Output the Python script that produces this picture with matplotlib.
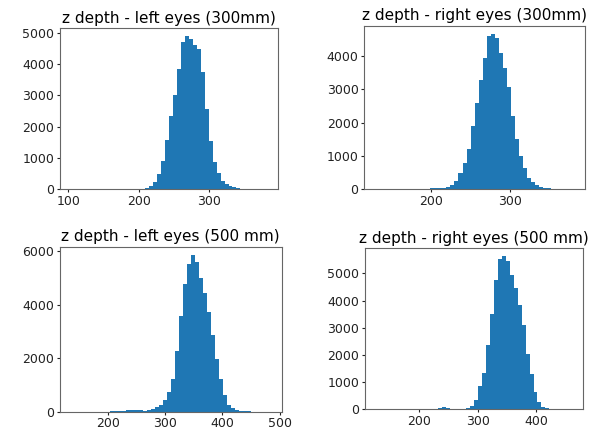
import numpy as np
import matplotlib
matplotlib.use("Agg")
import matplotlib.pyplot as plt

# histogram counts, 50 bins per panel
left300_range = (102.2, 383.2)
left300_counts = [1, 0, 0, 0, 0, 0, 0, 0, 0, 2, 3, 5,
                  10, 15, 20, 15, 10, 15, 25, 50, 110,
                  220, 500, 890, 1560, 2330, 3010, 3860, 4720, 4900,
                  4800, 4600, 4470, 3740, 2560, 1550, 870, 530, 270,
                  160, 100, 60, 30, 15, 8, 5, 3, 2, 1, 1]

right300_range = (128.5, 382.5)
right300_counts = [1, 0, 0, 0, 0, 0, 0, 0, 0,
                   3, 6, 10, 15, 20, 25, 30, 35, 50, 70,
                   130, 250, 480, 780, 1210, 1900, 2580, 3280, 3930, 4600, 4670,
                   4540, 4100, 3640, 3070, 2200, 1520, 1010, 640, 340, 210, 130,
                   80, 50, 30, 15, 8, 4, 2, 1, 1]

left500_range = (133.6, 485.9)
left500_counts = [1, 0, 0, 0, 1, 2, 2, 3, 3, 5, 8, 10, 15,
                  25, 45, 60, 70, 55, 35, 45, 110, 180, 260,
                  450, 750, 1210, 2260, 3590, 4780, 5530, 5880,
                  5600, 5000, 4440, 3740, 2880, 1970, 1220, 610, 250, 120,
                  60, 30, 15, 8, 4, 2, 1, 1, 1]

right500_range = (124.0, 462.8)
right500_counts = [1, 0, 0, 0, 0, 0, 0, 0, 1, 1, 2, 2, 3, 3, 5,
                   10, 40, 80, 40, 20, 15, 20, 30, 50, 120,
                   360, 840, 1320, 2380, 3490, 4770, 5540, 5640,
                   5460, 4930, 4450, 3850, 3090, 2030, 1290, 650, 280, 100,
                   40, 15, 6, 3, 1, 1, 1]

titles = ["z depth - left eyes (300mm)", "z depth - right eyes (300mm)",
          "z depth - left eyes (500 mm)", "z depth - right eyes (500 mm)"]
xticks = [[100, 200, 300], [200, 300], [200, 300, 400, 500], [200, 300, 400]]
yticks = [[0, 1000, 2000, 3000, 4000, 5000], [0, 1000, 2000, 3000, 4000],
          [0, 2000, 4000, 6000], [0, 1000, 2000, 3000, 4000, 5000]]


def draw_hist(ax, rng, counts, title, xt, yt):
    """Draws one pre-binned histogram"""
    edges = np.linspace(rng[0], rng[1], len(counts) + 1)
    centers = (edges[:-1] + edges[1:]) / 2
    ax.hist(centers, bins=edges, weights=counts, color="#1f77b4")
    ax.set_title(title, fontsize=11, pad=4)
    ax.set_xticks(xt)
    ax.set_yticks(yt)
    ax.tick_params(labelsize=9, length=2, pad=2, colors="#222222")
    for s in ax.spines.values():
        s.set_color("#666666")
        s.set_linewidth(0.8)


fig = plt.figure(figsize=(5.91, 4.30), dpi=100)
# axes boxes measured in pixels of the reference (left, bottom, width, height)
boxes = [(0.1015, 0.5598, 0.369, 0.3744),
         (0.616, 0.5598, 0.374, 0.3798),
         (0.1015, 0.0426, 0.375, 0.3837),
         (0.6176, 0.0481, 0.369, 0.3744)]
data = [(left300_range, left300_counts), (right300_range, right300_counts),
        (left500_range, left500_counts), (right500_range, right500_counts)]

for i in range(4):
    ax = fig.add_axes(boxes[i])
    draw_hist(ax, data[i][0], data[i][1], titles[i], xticks[i], yticks[i])

fig.savefig("out.png", dpi=100)
